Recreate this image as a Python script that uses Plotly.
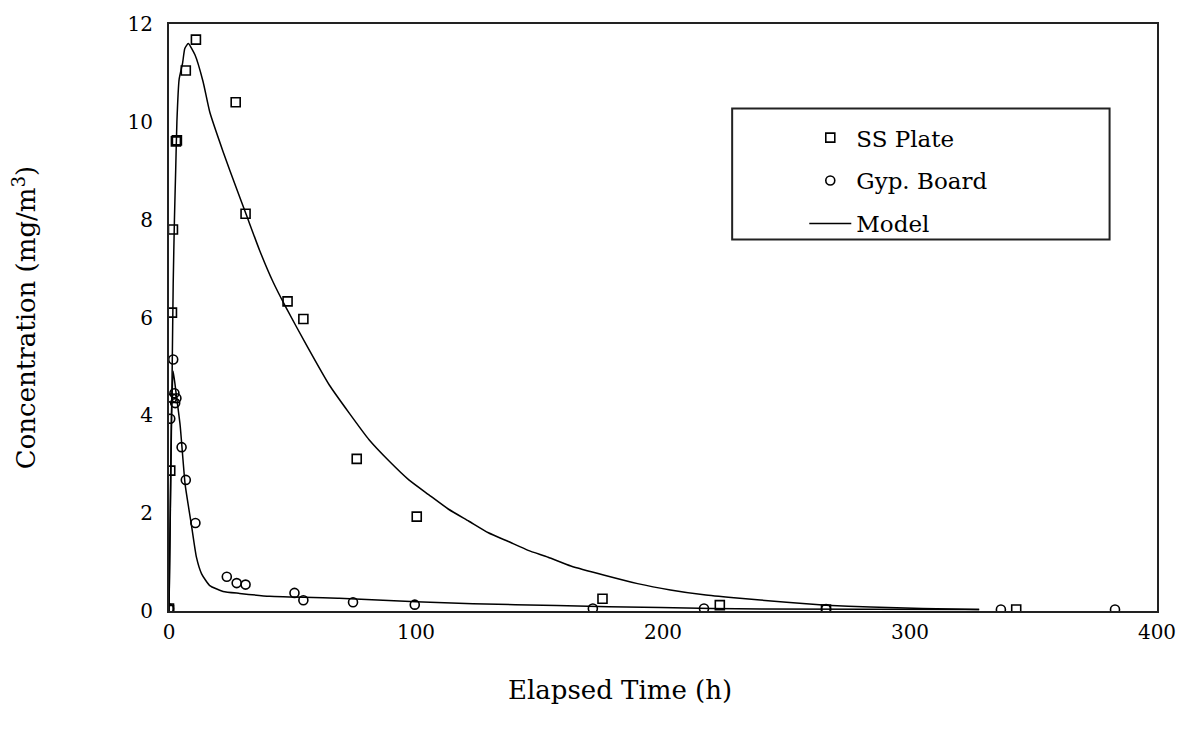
import plotly.graph_objects as go

# SS Plate measurements
ss_time = [0, 0, 0.5, 1.2, 1.6, 2.8, 3.2, 6.8, 10.9, 27, 31, 48, 54.4, 76, 100.3, 175.5, 223, 266, 343]
ss_conc = [0.05, 0.02, 2.87, 6.1, 7.8, 9.6, 9.62, 11.05, 11.68, 10.4, 8.12, 6.33, 5.97, 3.11, 1.93, 0.25, 0.12, 0.03, 0.03]

# Gypsum board measurements
gyp_time = [0, 0.5, 1.2, 1.7, 2.2, 2.5, 3.0, 5.1, 6.8, 10.7, 23.4, 27.4, 31, 50.8, 54.4, 74.5, 99.5, 171.6, 216.6, 266, 336.8, 383]
gyp_conc = [0.05, 3.93, 4.35, 5.14, 4.45, 4.25, 4.35, 3.35, 2.68, 1.8, 0.70, 0.57, 0.54, 0.37, 0.22, 0.18, 0.13, 0.05, 0.05, 0.04, 0.03, 0.03]

# Model curves
ss_model_t = [0, 0.8, 1.3, 1.7, 2.2, 2.7, 3.2, 4.1, 5.5, 6.4, 7.8, 10.5, 13.8, 16.5, 21.9, 27.3, 31.3, 36.7, 42, 47.4, 55.5,
              64.9, 72.9, 81.0, 89.0, 97.1, 105.1, 113.2, 121.3, 129.3, 137.4, 145.4, 153.5, 162.7, 176.3, 189.7, 203,
              216.6, 228.7, 250, 266, 284, 305, 328]
ss_model_c = [0, 3.0, 5.0, 6.7, 8.0, 9.0, 10.0, 10.87, 11.2, 11.5, 11.6, 11.37, 10.82, 10.2, 9.39, 8.64, 8.1, 7.37, 6.74, 6.2, 5.45,
              4.62, 4.05, 3.5, 3.07, 2.68, 2.38, 2.08, 1.84, 1.6, 1.42, 1.24, 1.10, 0.92, 0.73, 0.56, 0.43,
              0.33, 0.27, 0.18, 0.12, 0.08, 0.05, 0.03]

gyp_model_t = [0, 0.5, 1.0, 1.7, 3.0, 4.5, 6.5, 8.0, 9.1, 11.1, 13.2, 16.5, 21.9, 28.6, 40.7, 68.9, 100, 123, 157, 199, 240, 328]
gyp_model_c = [0, 2.0, 4.0, 4.9, 4.4, 3.8, 2.6, 2.1, 1.75, 1.1, 0.76, 0.52, 0.40, 0.36, 0.30, 0.26, 0.19, 0.15, 0.11, 0.07, 0.04, 0.03]

x_ticks = [0, 100, 200, 300, 400]
y_ticks = [0, 2, 4, 6, 8, 10, 12]

FONT = "DejaVu Serif, serif"

fig = go.Figure()
fig.add_trace(go.Scatter(x=ss_time, y=ss_conc, mode="markers", name="SS Plate",
                         legendgroup="a",
                         marker=dict(symbol="square-open", size=9, color="black", line=dict(width=1.6))))
fig.add_trace(go.Scatter(x=gyp_time, y=gyp_conc, mode="markers", name="Gyp. Board",
                         legendgroup="b",
                         marker=dict(symbol="circle-open", size=9, color="black", line=dict(width=1.6))))
fig.add_trace(go.Scatter(x=ss_model_t, y=ss_model_c, mode="lines", name="Model",
                         legendgroup="c",
                         line=dict(color="black", width=1.5, shape="spline", smoothing=0.5)))
fig.add_trace(go.Scatter(x=gyp_model_t, y=gyp_model_c, mode="lines", name="Model",
                         legendgroup="c", showlegend=False,
                         line=dict(color="black", width=1.5, shape="spline", smoothing=0.5)))

# legend frame
fig.add_shape(type="rect", xref="paper", yref="paper", x0=0.570, x1=0.952, y0=0.633, y1=0.856,
              line=dict(color="#222", width=2), fillcolor="rgba(0,0,0,0)")

# x-axis title (placed as in the original, slightly left of plot centre)
fig.add_annotation(text="Elapsed Time (h)", xref="paper", yref="paper", x=0.456, y=-0.135,
                   xanchor="center", yanchor="middle", showarrow=False,
                   font=dict(family=FONT, size=26, color="black"))

fig.update_layout(
    width=1188, height=732,
    margin=dict(l=169, r=26, t=22, b=121),
    plot_bgcolor="white", paper_bgcolor="white",
    font=dict(family=FONT, size=20, color="black"),
    showlegend=True,
    legend=dict(x=0.643, y=0.843, xanchor="left", yanchor="top",
                bgcolor="rgba(0,0,0,0)", borderwidth=0, itemwidth=42,
                tracegroupgap=10, font=dict(size=23)),
    xaxis=dict(range=[0, 400], tickvals=x_ticks, showgrid=False, zeroline=False,
               showline=True, mirror=True, linecolor="#222", linewidth=2, ticks="",
               ticklabelstandoff=2),
    yaxis=dict(range=[0, 12], tickvals=y_ticks, showgrid=False, zeroline=False,
               showline=True, mirror=True, linecolor="#222", linewidth=2, ticks="",
               ticklabelstandoff=10,
               title=dict(text="Concentration (mg/m<sup>3</sup>)", font=dict(size=26), standoff=84)),
)

fig.write_html("out.html")
